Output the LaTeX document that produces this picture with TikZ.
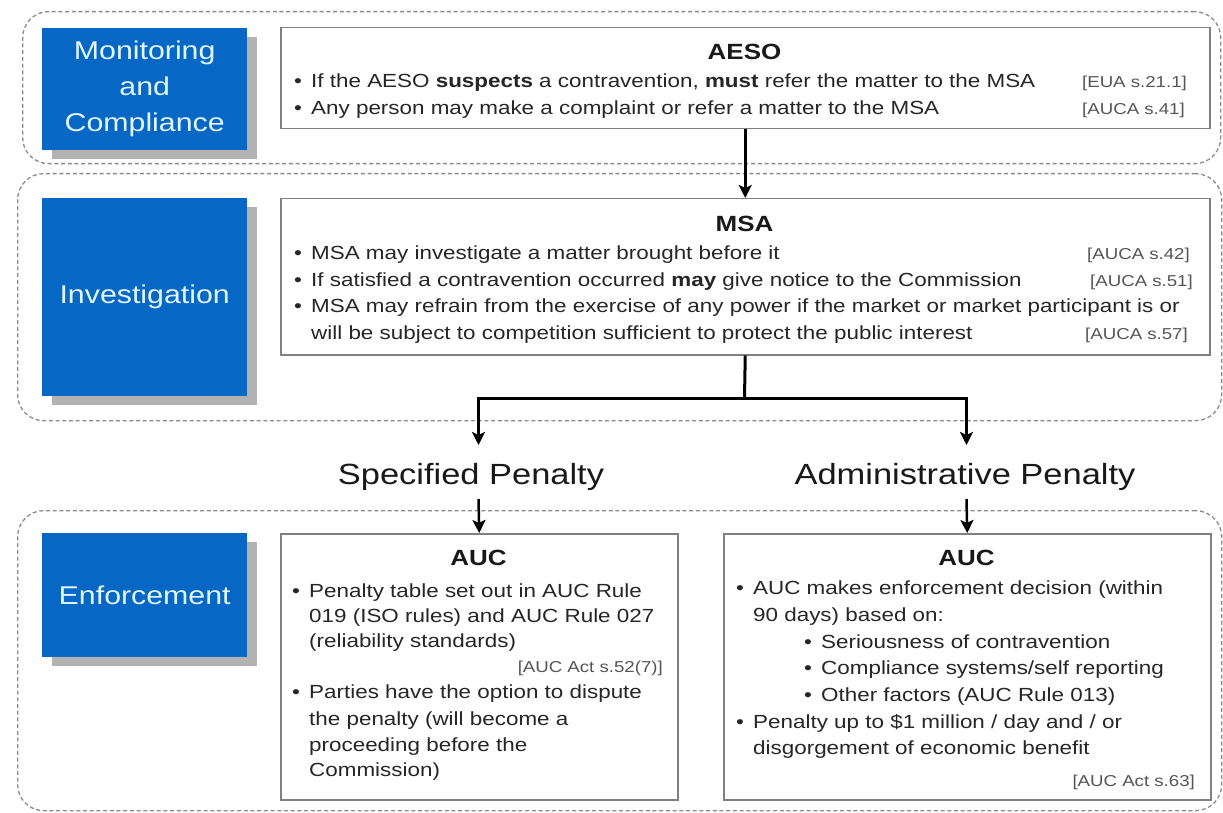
\documentclass[tikz,border=0pt]{standalone}
\usepackage{fontspec}
\setmainfont{Liberation Sans}[FakeStretch=1.18]
\usetikzlibrary{arrows.meta,shadows}
\definecolor{myblue}{RGB}{6,104,196}
\definecolor{bluetxt}{RGB}{226,245,255}
\definecolor{boxgrey}{RGB}{128,128,128}
\definecolor{dashgrey}{RGB}{140,140,140}
\definecolor{txt}{RGB}{38,38,38}
\definecolor{reftxt}{RGB}{85,85,85}
\newcommand{\bitem}[4]{%
  \node[bulstyle] (#1-b) at (#2,#3) {\textbullet};
  \node[bodytext] (#1) at (#2+13,#3) {#4};}
\begin{document}
\begin{tikzpicture}[x=1pt,y=-1pt,
  container/.style={draw=dashgrey, line width=1.3pt, dash pattern=on 4pt off 2.7pt, rounded corners=26pt, anchor=north west, inner sep=0pt},
  bluebox/.style={fill=myblue, text=bluetxt, anchor=north west, inner sep=0pt, align=center,
    font=\fontsize{25.7}{36}\selectfont,
    drop shadow={shadow xshift=10pt, shadow yshift=-9pt, fill=gray!60, opacity=1}},
  whitebox/.style={draw=boxgrey, line width=1.5pt, fill=white, anchor=north west, inner sep=0pt},
  bodytext/.style={font=\fontsize{19}{26}\selectfont, text=txt, inner sep=0pt, anchor=base west},
  bulstyle/.style={font=\fontsize{19}{26}\selectfont, text=txt, inner sep=0pt, anchor=base},
  reftext/.style={font=\fontsize{15.8}{19}\selectfont, text=reftxt, inner sep=0pt, anchor=base east},
  boxtitle/.style={font=\bfseries\fontsize{22}{26}\selectfont, text=black!90, inner sep=0pt, anchor=base},
  penlabel/.style={font=\fontsize{29.2}{34}\selectfont, text=black!90, inner sep=0pt, anchor=base},
  arrowline/.style={line width=3pt, -{Stealth[length=13pt,width=13pt,inset=3pt]}},
  plainline/.style={line width=3pt}
]
\useasboundingbox (0,0) rectangle (1223,813);
\fill[white] (0,0) rectangle (1223,813);

% dashed containers
\node[container, minimum width=1198pt, minimum height=152pt] (c1) at (22,11) {};
\node[container, minimum width=1204pt, minimum height=247pt] (c2) at (17,173) {};
\node[container, minimum width=1204pt, minimum height=300pt] (c3) at (17,510) {};

% blue stage boxes
\node[bluebox, minimum width=205pt, minimum height=122pt] (mon) at (42,28) {Monitoring\\and\\Compliance};
\node[bluebox, minimum width=205pt, minimum height=198pt] (inv) at (42,198) {Investigation};
\node[bluebox, minimum width=205pt, minimum height=124pt] (enf) at (42,533) {Enforcement};

% white boxes
\node[whitebox, minimum width=929pt, minimum height=101pt] (aeso) at (280,27) {};
\node[whitebox, minimum width=929pt, minimum height=156pt] (msa) at (280,198) {};
\node[whitebox, minimum width=397pt, minimum height=266pt] (aucL) at (280,533) {};
\node[whitebox, minimum width=487pt, minimum height=266pt] (aucR) at (723,533) {};

% AESO
\node[boxtitle] (aesoT) at (744.5,60) {AESO};
\bitem{a1}{298}{88}{If the AESO \textbf{suspects} a contravention, \textbf{must} refer the matter to the MSA}
\node[reftext] (a1r) at (1187,88) {[EUA s.21.1]};
\bitem{a2}{298}{115}{Any person may make a complaint or refer a matter to the MSA}
\node[reftext] (a2r) at (1185,115) {[AUCA s.41]};

% MSA
\node[boxtitle] (msaT) at (744.5,231) {MSA};
\bitem{m1}{298}{259}{MSA may investigate a matter brought before it}
\node[reftext] (m1r) at (1190,259) {[AUCA s.42]};
\bitem{m2}{298}{286}{If satisfied a contravention occurred \textbf{may} give notice to the Commission}
\node[reftext] (m2r) at (1193,286) {[AUCA s.51]};
\bitem{m3}{298}{312}{MSA may refrain from the exercise of any power if the market or market participant is or}
\node[bodytext] (m3c) at (311,339) {will be subject to competition sufficient to protect the public interest};
\node[reftext] (m3r) at (1188,339) {[AUCA s.57]};

% left AUC
\node[boxtitle] (aucLT) at (478.5,565) {AUC};
\bitem{l1}{296}{597}{Penalty table set out in AUC Rule}
\node[bodytext] (l1c1) at (309,622) {019 (ISO rules) and AUC Rule 027};
\node[bodytext] (l1c2) at (309,647) {(reliability standards)};
\node[reftext] (l1r) at (663,672) {[AUC Act s.52(7)]};
\bitem{l2}{296}{698}{Parties have the option to dispute}
\node[bodytext] (l2c1) at (309,725) {the penalty (will become a};
\node[bodytext] (l2c2) at (309,751) {proceeding before the};
\node[bodytext] (l2c3) at (309,776) {Commission)};

% right AUC
\node[boxtitle] (aucRT) at (966.5,565) {AUC};
\bitem{r1}{740}{594}{AUC makes enforcement decision (within}
\node[bodytext] (r1c) at (753,621) {90 days) based on:};
\bitem{s1}{808}{648}{Seriousness of contravention}
\bitem{s2}{808}{674}{Compliance systems/self reporting}
\bitem{s3}{808}{701}{Other factors (AUC Rule 013)}
\bitem{r2}{740}{728}{Penalty up to \$1 million / day and / or}
\node[bodytext] (r2c) at (753,754) {disgorgement of economic benefit};
\node[reftext] (r2r) at (1195,786) {[AUC Act s.63]};

% penalty labels
\node[penlabel] (spec) at (471,484) {Specified Penalty};
\node[penlabel] (admin) at (965,484) {Administrative Penalty};

% connectors
\coordinate (split) at (744.5,398);
\coordinate (tipL) at (478.5,445);
\coordinate (tipR) at (966.5,445);
\coordinate (startL) at (478.5,499);
\coordinate (startR) at (966.5,499);
\draw[arrowline] (aeso.south) -- (msa.north);
\draw[plainline] (msa.south) -- (split);
\draw[arrowline] (split) -| (tipL);
\draw[arrowline] (split) -| (tipR);
\draw[arrowline, line width=2.5pt] (startL) -- (aucL.north);
\draw[arrowline, line width=2.5pt] (startR) -- (aucR.north);
\end{tikzpicture}
\end{document}
